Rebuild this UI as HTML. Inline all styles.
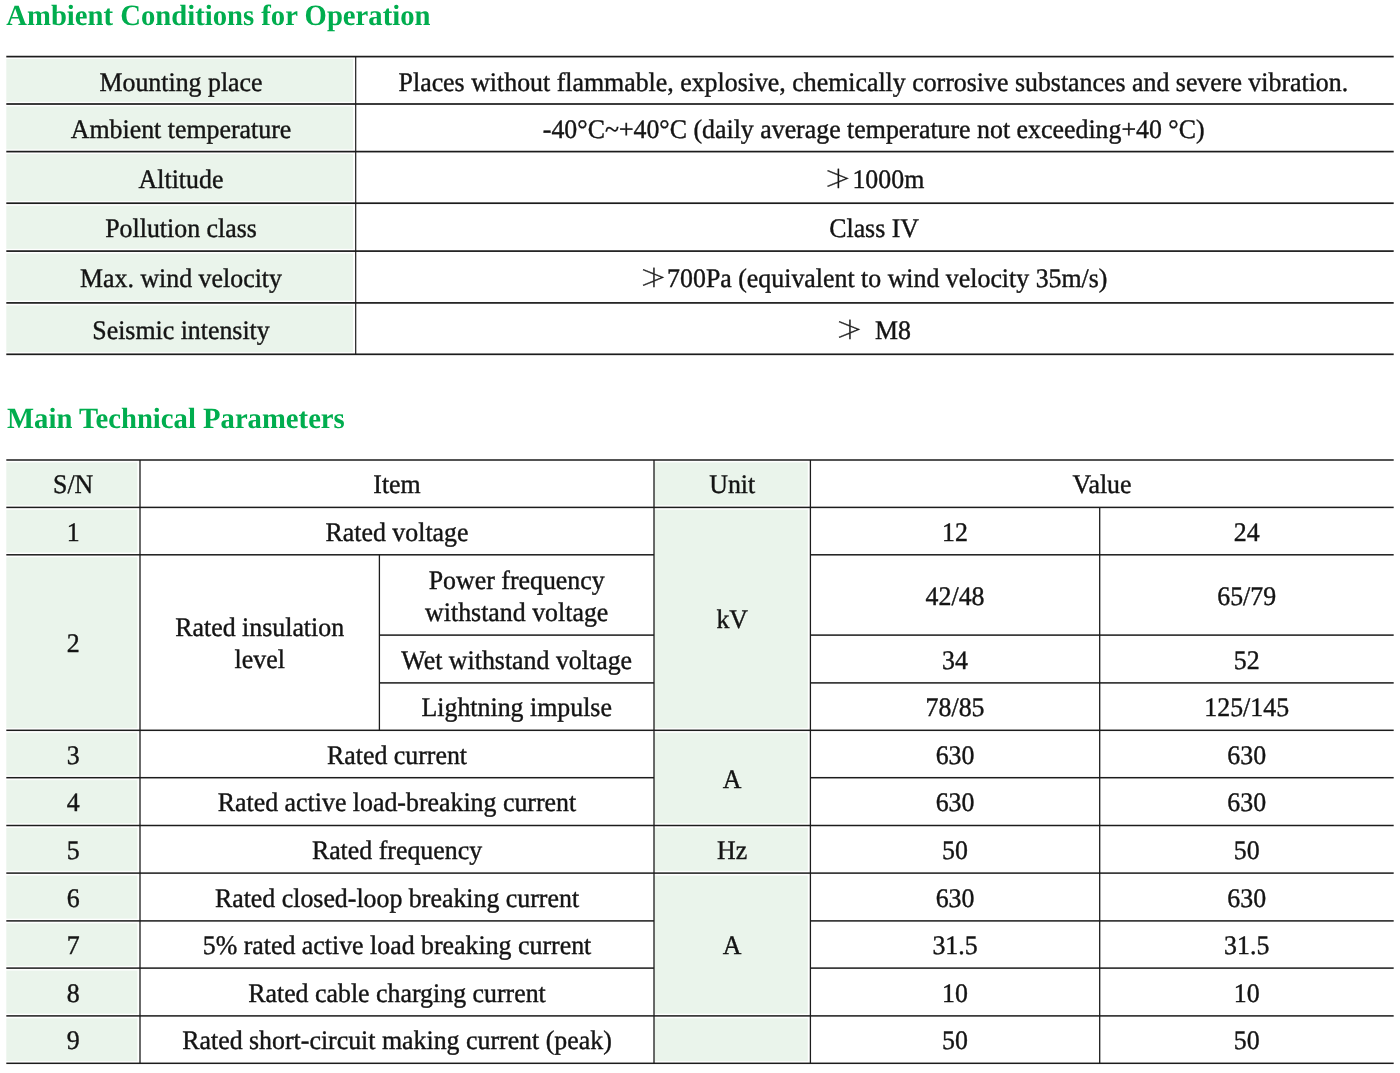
<!DOCTYPE html>
<html lang="en"><head><meta charset="utf-8"><title>Ambient Conditions for Operation / Main Technical Parameters</title>
<style>
html,body{margin:0;padding:0;background:#fff}
body{width:1400px;height:1073px;overflow:hidden}
svg{display:block}
text{text-rendering:geometricPrecision;font-family:"Liberation Serif","Noto Sans CJK SC",serif;white-space:pre}
.t{font-size:26.75px;fill:#141414;stroke:#141414;stroke-width:.4px}
.h{font-size:29.3px;font-weight:bold;fill:#00ad4e}
.ng{font-family:"Noto Serif CJK SC","Noto Sans CJK SC","DejaVu Sans",serif;fill:#141414;stroke:#141414;stroke-width:.35px}
</style></head><body>
<svg width="1400" height="1073" viewBox="0 0 1400 1073" role="img" aria-label="Ambient conditions and main technical parameters tables">
<rect x="6.30" y="59.00" width="346.80" height="42.80" fill="#eaf4eb"/>
<rect x="6.30" y="106.40" width="346.80" height="43.00" fill="#eaf4eb"/>
<rect x="6.30" y="154.00" width="346.80" height="47.00" fill="#eaf4eb"/>
<rect x="6.30" y="205.60" width="346.80" height="43.30" fill="#eaf4eb"/>
<rect x="6.30" y="253.50" width="346.80" height="47.20" fill="#eaf4eb"/>
<rect x="6.30" y="305.30" width="346.80" height="46.80" fill="#eaf4eb"/>
<rect x="6.30" y="55.75" width="1387.40" height="1.70" fill="#1c1c1c"/>
<rect x="6.30" y="103.15" width="1387.40" height="1.70" fill="#1c1c1c"/>
<rect x="6.30" y="150.75" width="1387.40" height="1.70" fill="#1c1c1c"/>
<rect x="6.30" y="202.35" width="1387.40" height="1.70" fill="#1c1c1c"/>
<rect x="6.30" y="250.25" width="1387.40" height="1.70" fill="#1c1c1c"/>
<rect x="6.30" y="302.05" width="1387.40" height="1.70" fill="#1c1c1c"/>
<rect x="6.30" y="353.45" width="1387.40" height="1.70" fill="#1c1c1c"/>
<rect x="355.10" y="56.60" width="1.20" height="297.70" fill="#1c1c1c"/>
<text class="t" transform="translate(181.00 91.00) scale(0.967 1)" text-anchor="middle">Mounting place</text>
<text class="t" transform="translate(873.40 91.00) scale(0.967 1)" text-anchor="middle">Places without flammable, explosive, chemically corrosive substances and severe vibration.</text>
<text class="t" transform="translate(181.00 138.00) scale(0.967 1)" text-anchor="middle">Ambient temperature</text>
<text class="t" transform="translate(873.70 138.00) scale(0.967 1)" text-anchor="middle">-40°C~+40°C (daily average temperature not exceeding+40 °C)</text>
<text class="t" transform="translate(181.00 188.00) scale(0.967 1)" text-anchor="middle">Altitude</text>
<text class="t" transform="translate(181.00 237.00) scale(0.967 1)" text-anchor="middle">Pollution class</text>
<text class="t" transform="translate(874.10 237.00) scale(0.967 1)" text-anchor="middle">Class IV</text>
<text class="t" transform="translate(181.00 287.00) scale(0.967 1)" text-anchor="middle">Max. wind velocity</text>
<text class="t" transform="translate(181.00 339.00) scale(0.967 1)" text-anchor="middle">Seismic intensity</text>
<text class="ng" transform="translate(824.16 186.96) scale(1.04 0.89)" style="font-size:26.0px">≯</text>
<text class="t" transform="translate(852.40 188.00) scale(0.967 1)" text-anchor="start">1000m</text>
<text class="ng" transform="translate(639.66 286.26) scale(1.04 0.89)" style="font-size:26.0px">≯</text>
<text class="t" transform="translate(667.10 287.00) scale(0.967 1)" text-anchor="start">700Pa (equivalent to wind velocity 35m/s)</text>
<text class="ng" transform="translate(835.86 338.26) scale(1.04 0.89)" style="font-size:26.0px">≯</text>
<text class="t" transform="translate(875.00 339.00) scale(0.967 1)" text-anchor="start">M8</text>
<text class="h" transform="translate(6.30 25.00) scale(0.979 1)" text-anchor="start">Ambient Conditions for Operation</text>
<text class="h" transform="translate(7.00 428.00) scale(0.979 1)" text-anchor="start">Main Technical Parameters</text>
<rect x="6.30" y="462.40" width="131.10" height="42.80" fill="#eaf4eb"/>
<rect x="6.30" y="509.80" width="131.10" height="42.80" fill="#eaf4eb"/>
<rect x="6.30" y="557.20" width="131.10" height="170.90" fill="#eaf4eb"/>
<rect x="6.30" y="732.70" width="131.10" height="42.80" fill="#eaf4eb"/>
<rect x="6.30" y="780.10" width="131.10" height="43.20" fill="#eaf4eb"/>
<rect x="6.30" y="827.90" width="131.10" height="43.00" fill="#eaf4eb"/>
<rect x="6.30" y="875.50" width="131.10" height="43.20" fill="#eaf4eb"/>
<rect x="6.30" y="923.30" width="131.10" height="42.60" fill="#eaf4eb"/>
<rect x="6.30" y="970.50" width="131.10" height="43.20" fill="#eaf4eb"/>
<rect x="6.30" y="1018.30" width="131.10" height="42.80" fill="#eaf4eb"/>
<rect x="654.00" y="462.40" width="153.80" height="42.80" fill="#eaf4eb"/>
<rect x="654.00" y="509.80" width="153.80" height="218.30" fill="#eaf4eb"/>
<rect x="654.00" y="732.70" width="153.80" height="90.60" fill="#eaf4eb"/>
<rect x="654.00" y="827.90" width="153.80" height="43.00" fill="#eaf4eb"/>
<rect x="654.00" y="875.50" width="153.80" height="138.20" fill="#eaf4eb"/>
<rect x="654.00" y="1018.30" width="153.80" height="42.80" fill="#eaf4eb"/>
<rect x="6.30" y="459.25" width="1387.40" height="1.50" fill="#1c1c1c"/>
<rect x="6.30" y="506.65" width="1387.40" height="1.50" fill="#1c1c1c"/>
<rect x="6.30" y="554.05" width="647.70" height="1.50" fill="#1c1c1c"/>
<rect x="810.40" y="554.05" width="583.30" height="1.50" fill="#1c1c1c"/>
<rect x="379.40" y="634.35" width="274.60" height="1.50" fill="#1c1c1c"/>
<rect x="810.40" y="634.35" width="583.30" height="1.50" fill="#1c1c1c"/>
<rect x="379.40" y="682.15" width="274.60" height="1.50" fill="#1c1c1c"/>
<rect x="810.40" y="682.15" width="583.30" height="1.50" fill="#1c1c1c"/>
<rect x="6.30" y="729.55" width="1387.40" height="1.50" fill="#1c1c1c"/>
<rect x="6.30" y="776.95" width="647.70" height="1.50" fill="#1c1c1c"/>
<rect x="810.40" y="776.95" width="583.30" height="1.50" fill="#1c1c1c"/>
<rect x="6.30" y="824.75" width="1387.40" height="1.50" fill="#1c1c1c"/>
<rect x="6.30" y="872.35" width="1387.40" height="1.50" fill="#1c1c1c"/>
<rect x="6.30" y="920.15" width="647.70" height="1.50" fill="#1c1c1c"/>
<rect x="810.40" y="920.15" width="583.30" height="1.50" fill="#1c1c1c"/>
<rect x="6.30" y="967.35" width="647.70" height="1.50" fill="#1c1c1c"/>
<rect x="810.40" y="967.35" width="583.30" height="1.50" fill="#1c1c1c"/>
<rect x="6.30" y="1015.15" width="1387.40" height="1.50" fill="#1c1c1c"/>
<rect x="6.30" y="1062.55" width="1387.40" height="1.50" fill="#1c1c1c"/>
<rect x="139.35" y="460.00" width="1.30" height="603.30" fill="#1c1c1c"/>
<rect x="653.35" y="460.00" width="1.30" height="603.30" fill="#1c1c1c"/>
<rect x="809.75" y="460.00" width="1.30" height="603.30" fill="#1c1c1c"/>
<rect x="378.75" y="554.80" width="1.30" height="175.50" fill="#1c1c1c"/>
<rect x="1099.05" y="507.40" width="1.30" height="555.90" fill="#1c1c1c"/>
<text class="t" transform="translate(73.15 493.00) scale(0.967 1)" text-anchor="middle">S/N</text>
<text class="t" transform="translate(397.00 493.00) scale(0.967 1)" text-anchor="middle">Item</text>
<text class="t" transform="translate(732.20 493.00) scale(0.967 1)" text-anchor="middle">Unit</text>
<text class="t" transform="translate(1102.05 493.00) scale(0.967 1)" text-anchor="middle">Value</text>
<text class="t" transform="translate(73.15 541.00) scale(0.967 1)" text-anchor="middle">1</text>
<text class="t" transform="translate(397.00 541.00) scale(0.967 1)" text-anchor="middle">Rated voltage</text>
<text class="t" transform="translate(955.05 541.00) scale(0.967 1)" text-anchor="middle">12</text>
<text class="t" transform="translate(1246.70 541.00) scale(0.967 1)" text-anchor="middle">24</text>
<text class="t" transform="translate(73.15 652.00) scale(0.967 1)" text-anchor="middle">2</text>
<text class="t" transform="translate(259.70 636.00) scale(0.967 1)" text-anchor="middle">Rated insulation</text>
<text class="t" transform="translate(259.70 668.00) scale(0.967 1)" text-anchor="middle">level</text>
<text class="t" transform="translate(516.70 589.00) scale(0.967 1)" text-anchor="middle">Power frequency</text>
<text class="t" transform="translate(516.70 621.00) scale(0.967 1)" text-anchor="middle">withstand voltage</text>
<text class="t" transform="translate(955.05 605.00) scale(0.967 1)" text-anchor="middle">42/48</text>
<text class="t" transform="translate(1246.70 605.00) scale(0.967 1)" text-anchor="middle">65/79</text>
<text class="t" transform="translate(516.70 669.00) scale(0.967 1)" text-anchor="middle">Wet withstand voltage</text>
<text class="t" transform="translate(955.05 669.00) scale(0.967 1)" text-anchor="middle">34</text>
<text class="t" transform="translate(1246.70 669.00) scale(0.967 1)" text-anchor="middle">52</text>
<text class="t" transform="translate(516.70 716.00) scale(0.967 1)" text-anchor="middle">Lightning impulse</text>
<text class="t" transform="translate(955.05 716.00) scale(0.967 1)" text-anchor="middle">78/85</text>
<text class="t" transform="translate(1246.70 716.00) scale(0.967 1)" text-anchor="middle">125/145</text>
<text class="t" transform="translate(732.20 628.00) scale(0.967 1)" text-anchor="middle">kV</text>
<text class="t" transform="translate(73.15 764.00) scale(0.967 1)" text-anchor="middle">3</text>
<text class="t" transform="translate(397.00 764.00) scale(0.967 1)" text-anchor="middle">Rated current</text>
<text class="t" transform="translate(955.05 764.00) scale(0.967 1)" text-anchor="middle">630</text>
<text class="t" transform="translate(1246.70 764.00) scale(0.967 1)" text-anchor="middle">630</text>
<text class="t" transform="translate(73.15 811.00) scale(0.967 1)" text-anchor="middle">4</text>
<text class="t" transform="translate(397.00 811.00) scale(0.967 1)" text-anchor="middle">Rated active load-breaking current</text>
<text class="t" transform="translate(955.05 811.00) scale(0.967 1)" text-anchor="middle">630</text>
<text class="t" transform="translate(1246.70 811.00) scale(0.967 1)" text-anchor="middle">630</text>
<text class="t" transform="translate(73.15 859.00) scale(0.967 1)" text-anchor="middle">5</text>
<text class="t" transform="translate(397.00 859.00) scale(0.967 1)" text-anchor="middle">Rated frequency</text>
<text class="t" transform="translate(955.05 859.00) scale(0.967 1)" text-anchor="middle">50</text>
<text class="t" transform="translate(1246.70 859.00) scale(0.967 1)" text-anchor="middle">50</text>
<text class="t" transform="translate(73.15 907.00) scale(0.967 1)" text-anchor="middle">6</text>
<text class="t" transform="translate(397.00 907.00) scale(0.967 1)" text-anchor="middle">Rated closed-loop breaking current</text>
<text class="t" transform="translate(955.05 907.00) scale(0.967 1)" text-anchor="middle">630</text>
<text class="t" transform="translate(1246.70 907.00) scale(0.967 1)" text-anchor="middle">630</text>
<text class="t" transform="translate(73.15 954.00) scale(0.967 1)" text-anchor="middle">7</text>
<text class="t" transform="translate(397.00 954.00) scale(0.967 1)" text-anchor="middle">5% rated active load breaking current</text>
<text class="t" transform="translate(955.05 954.00) scale(0.967 1)" text-anchor="middle">31.5</text>
<text class="t" transform="translate(1246.70 954.00) scale(0.967 1)" text-anchor="middle">31.5</text>
<text class="t" transform="translate(73.15 1002.00) scale(0.967 1)" text-anchor="middle">8</text>
<text class="t" transform="translate(397.00 1002.00) scale(0.967 1)" text-anchor="middle">Rated cable charging current</text>
<text class="t" transform="translate(955.05 1002.00) scale(0.967 1)" text-anchor="middle">10</text>
<text class="t" transform="translate(1246.70 1002.00) scale(0.967 1)" text-anchor="middle">10</text>
<text class="t" transform="translate(73.15 1049.00) scale(0.967 1)" text-anchor="middle">9</text>
<text class="t" transform="translate(397.00 1049.00) scale(0.967 1)" text-anchor="middle">Rated short-circuit making current (peak)</text>
<text class="t" transform="translate(955.05 1049.00) scale(0.967 1)" text-anchor="middle">50</text>
<text class="t" transform="translate(1246.70 1049.00) scale(0.967 1)" text-anchor="middle">50</text>
<text class="t" transform="translate(732.20 788.00) scale(0.967 1)" text-anchor="middle">A</text>
<text class="t" transform="translate(732.20 859.00) scale(0.967 1)" text-anchor="middle">Hz</text>
<text class="t" transform="translate(732.20 954.00) scale(0.967 1)" text-anchor="middle">A</text>
</svg>
</body></html>
